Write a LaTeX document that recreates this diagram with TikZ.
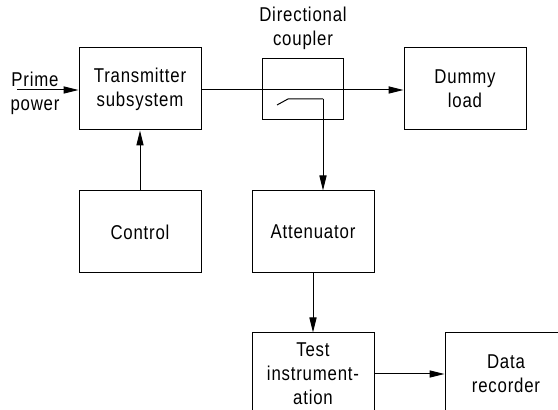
\documentclass[tikz,border=0pt]{standalone}
\usepackage{fontspec}
\setmainfont{Liberation Sans}[FakeStretch=0.84,LetterSpace=4]
\usetikzlibrary{arrows.meta,positioning}

\begin{document}
\begin{tikzpicture}[
    x=0.5pt, y=-0.5pt,
    line width=0.5pt,
    every node/.style={font=\fontsize{10}{12}\selectfont},
    blk/.style={rectangle, draw, minimum width=61pt, minimum height=41pt, align=center, inner sep=0pt},
    cpl/.style={rectangle, draw, minimum width=40.5pt, minimum height=30.5pt, inner sep=0pt},
    lbl/.style={align=center, inner sep=0pt},
    >={Triangle[length=7.5pt,width=3.6pt]}
]
    \useasboundingbox (0,0) rectangle (558,410);
    \clip (0,0) rectangle (558,410);

    % Blocks
    \node[blk] (tx) at (140,89) {Transmitter\\subsystem};
    \node[blk] (ctl) at (140,232) {Control};
    \node[cpl] (cpl) at (302.5,89.5) {};
    \node[blk] (dum) at (465,89) {Dummy\\load};
    \node[blk] (att) at (313,232) {Attenuator};
    \node[blk] (tst) at (313,374) {Test\\instrument-\\ation};
    \node[blk] (rec) at (506,374) {Data\\recorder};

    % Labels
    \node[lbl] (cpllbl) at (303,28) {Directional\\coupler};
    \node[lbl] (prime) at (35,79) {Prime};
    \node[lbl] (power) at (35,107) {power};

    % Coupler arm
    \coordinate (pin) at (17,90);
    \coordinate (arm1) at (277,105);
    \coordinate (arm2) at (288,99);
    \coordinate (arm3) at (323,99);
    \draw (arm1) -- (arm2) -- (arm3);

    % Arrows
    \draw[->] (pin) -- (pin -| tx.west);
    \draw[->] (tx.east |- pin) -- (pin -| dum.west);
    \draw[->] (ctl.north) -- (tx.south);
    \draw[->] (arm3) -- (arm3 |- att.north);
    \draw[->] (att.south) -- (tst.north);
    \draw[->] (tst.east) -- (rec.west);
\end{tikzpicture}
\end{document}
